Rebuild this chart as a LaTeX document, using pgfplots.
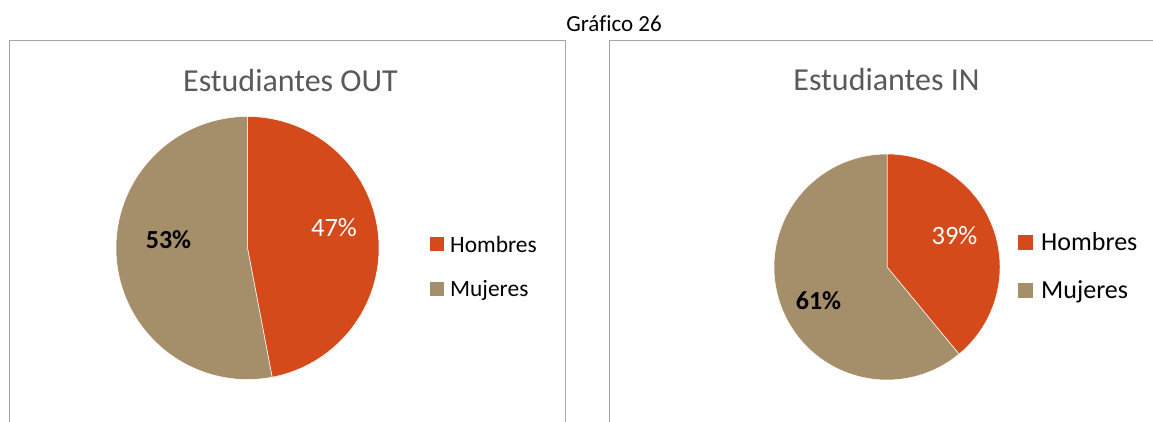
\documentclass[border=0pt]{standalone}
\usepackage{pgfplots}
\pgfplotsset{compat=1.18}
\usepackage{fontspec}
\setmainfont[Ligatures=NoCommon]{Carlito}
\definecolor{cH}{RGB}{212,74,26}
\definecolor{cM}{RGB}{165,142,106}
\definecolor{cT}{RGB}{89,89,89}
\definecolor{cB}{RGB}{165,165,165}
% data (percent)
\def\outH{47}\def\outM{53}
\def\inH{39}\def\inM{61}
\begin{document}
\begin{tikzpicture}[x=1pt,y=1pt]
\path[use as bounding box] (0,0) rectangle (1153,-422);
% panel frames
\draw[cB, line width=1pt] (9,-430) -- (9,-41) -- (565,-41) -- (565,-430);
\draw[cB, line width=1pt] (609,-430) -- (609,-41) -- (1165,-41);
% main title
\node[anchor=base, font=\fontsize{23}{26}\selectfont, text=black, inner sep=0pt] at (614,-32) {Gráfico 26};
% left pie
\begin{axis}[anchor=origin, at={(247.5pt,-248pt)}, x=131.5pt, y=131.5pt,
  xmin=-1, xmax=1, ymin=-1, ymax=1, hide axis, clip=false]
\addplot[fill=cH, draw=white, line width=0.5pt, domain={90-3.6*\outH}:90, samples=150, variable=\t]
  ({cos(\t)},{sin(\t)}) -- (axis cs:0,0) -- cycle;
\addplot[fill=cM, draw=white, line width=0.5pt, domain={90-3.6*(\outH+\outM)}:{90-3.6*\outH}, samples=150, variable=\t]
  ({cos(\t)},{sin(\t)}) -- (axis cs:0,0) -- cycle;
\end{axis}
% right pie
\begin{axis}[anchor=origin, at={(887pt,-267pt)}, x=113pt, y=113pt,
  xmin=-1, xmax=1, ymin=-1, ymax=1, hide axis, clip=false]
\addplot[fill=cH, draw=white, line width=0.5pt, domain={90-3.6*\inH}:90, samples=150, variable=\t]
  ({cos(\t)},{sin(\t)}) -- (axis cs:0,0) -- cycle;
\addplot[fill=cM, draw=white, line width=0.5pt, domain={90-3.6*(\inH+\inM)}:{90-3.6*\inH}, samples=150, variable=\t]
  ({cos(\t)},{sin(\t)}) -- (axis cs:0,0) -- cycle;
\end{axis}
% titles
\node[anchor=base, font=\fontsize{32}{36}\selectfont, text=cT, inner sep=0pt] at (290.5,-92) {Estudiantes OUT};
\node[anchor=base, font=\fontsize{32}{36}\selectfont, text=cT, inner sep=0pt] at (886.5,-91) {Estudiantes IN};
% data labels
\node[anchor=base, font=\fontsize{26.5}{30}\selectfont, text=white, inner sep=0pt] at (334,-236) {\outH\%};
\node[anchor=base, font=\bfseries\fontsize{26}{30}\selectfont, text=black, inner sep=0pt] at (168.5,-248) {\outM\%};
\node[anchor=base, font=\fontsize{26.5}{30}\selectfont, text=white, inner sep=0pt] at (954.5,-244) {\inH\%};
\node[anchor=base, font=\bfseries\fontsize{26}{30}\selectfont, text=black, inner sep=0pt] at (818.5,-309) {\inM\%};
% legends
\fill[cH] (430,-237) rectangle (444,-251);
\fill[cM] (430,-282) rectangle (444,-296);
\node[anchor=base west, font=\fontsize{23.4}{26}\selectfont, inner sep=0pt] at (450,-252) {Hombres};
\node[anchor=base west, font=\fontsize{23.4}{26}\selectfont, inner sep=0pt] at (450,-296) {Mujeres};
\fill[cH] (1018,-235) rectangle (1033,-250);
\fill[cM] (1018,-283) rectangle (1033,-298);
\node[anchor=base west, font=\fontsize{26}{30}\selectfont, inner sep=0pt] at (1041,-250) {Hombres};
\node[anchor=base west, font=\fontsize{26}{30}\selectfont, inner sep=0pt] at (1041,-298) {Mujeres};
\end{tikzpicture}
\end{document}
